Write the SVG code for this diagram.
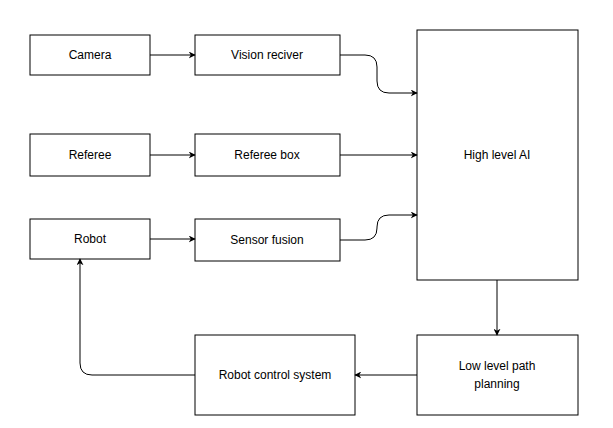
<svg xmlns="http://www.w3.org/2000/svg" width="613" height="428" viewBox="0 0 613 428">
<style>
.n rect{fill:#fff;stroke:#000;stroke-width:1}
.n text{font-family:"Liberation Sans",Arial,sans-serif;font-size:12px;text-anchor:middle;fill:#000}
.c path{fill:none;stroke:#000;stroke-width:1;marker-end:url(#a)}
</style>
<defs><marker id="a" viewBox="0 0 10 10" refX="9" refY="5" markerWidth="7" markerHeight="7" orient="auto"><path d="M0,0L10,5L0,10L3,5z" fill="#000"/></marker></defs>
<rect width="613" height="428" fill="#fff"/>
<g id="camera" class="n"><rect x="30" y="35" width="120" height="40"/><text x="90" y="59">Camera</text></g>
<g id="vision" class="n"><rect x="195" y="35" width="145" height="40"/><text x="267" y="59">Vision reciver</text></g>
<g id="referee" class="n"><rect x="30" y="134" width="120" height="42"/><text x="90" y="159">Referee</text></g>
<g id="refbox" class="n"><rect x="195" y="134" width="145" height="42"/><text x="267" y="159">Referee box</text></g>
<g id="robot" class="n"><rect x="30" y="219" width="120" height="40"/><text x="90" y="243">Robot</text></g>
<g id="sensor" class="n"><rect x="195" y="219" width="145" height="42"/><text x="267" y="244">Sensor fusion</text></g>
<g id="ai" class="n"><rect x="417" y="30" width="161" height="250"/><text x="497" y="159">High level AI</text></g>
<g id="low" class="n"><rect x="417" y="335" width="161" height="80"/><text x="497" y="370">Low level path</text><text x="497" y="388">planning</text></g>
<g id="rcs" class="n"><rect x="195" y="335" width="160" height="80"/><text x="275" y="379">Robot control system</text></g>
<g class="c">
<path d="M150,55H195"/>
<path d="M150,155H195"/>
<path d="M150,239H195"/>
<path d="M340,55H365Q377,55 377,67V81Q377,93 389,93H417"/>
<path d="M340,155H417"/>
<path d="M340,240H365Q377,240 377,228V227Q377,215 389,215H417"/>
<path d="M497,280V335"/>
<path d="M417,375H355"/>
<path d="M195,375H92Q80,375 80,363V259"/>
</g>
</svg>
